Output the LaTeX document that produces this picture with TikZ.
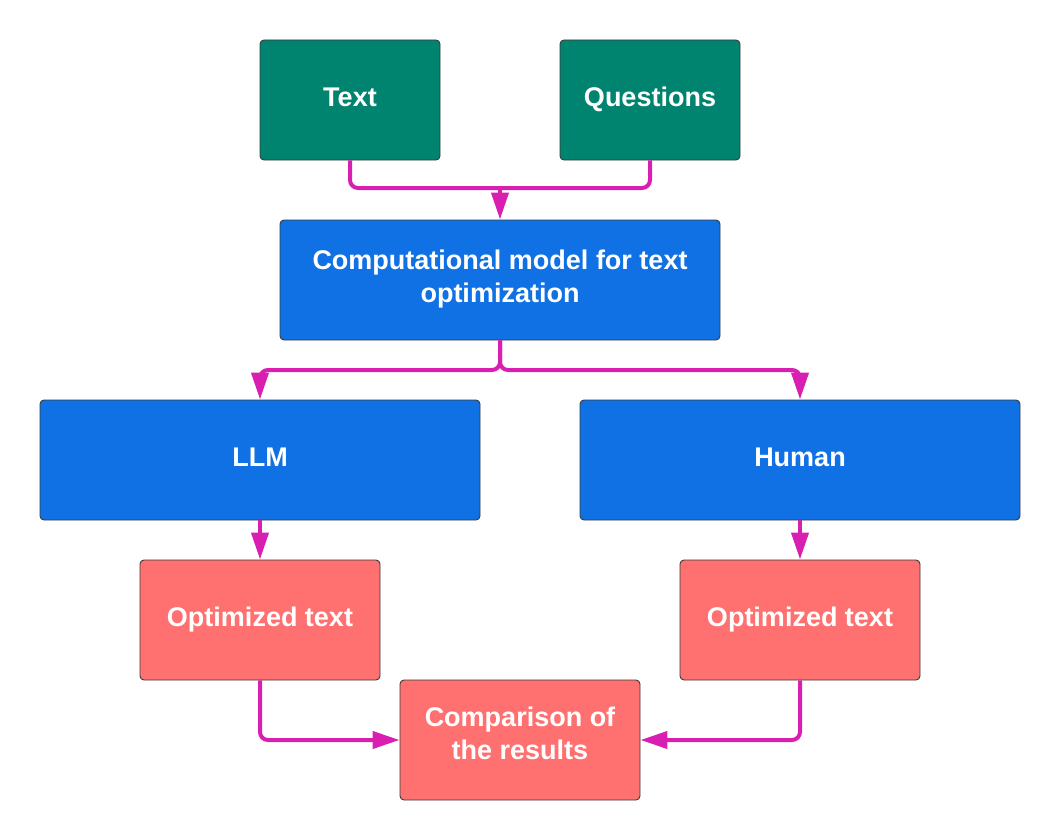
\documentclass[tikz,border=0pt]{standalone}
\usepackage{fontspec}
\setmainfont{Liberation Sans}
\usetikzlibrary{arrows.meta}
\definecolor{teal1}{HTML}{00846F}
\definecolor{blue1}{HTML}{1071E5}
\definecolor{salmon1}{HTML}{FF7070}
\definecolor{mag1}{HTML}{D91FB1}
\definecolor{edge1}{HTML}{3A3A3A}
\tikzset{
  box/.style={draw=edge1, line width=0.9pt, rounded corners=4pt, text=white,
    font=\fontsize{27}{33}\selectfont\bfseries, align=center, inner sep=0pt},
  oneline/.style={text height=20pt, text depth=7pt},
  greenbox/.style={box, fill=teal1, minimum width=180pt, minimum height=120pt},
  bluebox/.style={box, fill=blue1, minimum width=440pt, minimum height=120pt},
  redbox/.style={box, fill=salmon1, minimum width=240pt, minimum height=120pt},
  line1/.style={draw=mag1, line width=4pt, rounded corners=8pt},
  conn/.style={line1, -{Triangle[length=27pt,width=17pt]}}
}
\begin{document}
\begin{tikzpicture}[x=1pt,y=-1pt]
\useasboundingbox (0,0) rectangle (1060,840);
\node[greenbox, oneline] (text) at (350,100) {Text};
\node[greenbox, oneline] (quest) at (650,100) {Questions};
\node[bluebox, text depth=7.5pt] (comp) at (500,280) {Computational model for text\\optimization};
\node[bluebox, oneline] (llm) at (260,460) {LLM};
\node[bluebox, oneline] (human) at (800,460) {Human};
\node[redbox, oneline] (opt1) at (260,620) {Optimized text};
\node[redbox, oneline] (opt2) at (800,620) {Optimized text};
\node[redbox, text depth=14pt] (cmp) at (520,740) {Comparison of\\the results};
\coordinate (j1) at (500,188);
\draw[line1] (text.south) |- (j1) -| (quest.south);
\draw[conn] (j1) -- (comp.north);
\draw[conn] (comp.south) |- (260,370) -- (llm.north);
\draw[conn] (comp.south) |- (800,370) -- (human.north);
\draw[conn] (llm.south) -- (opt1.north);
\draw[conn] (human.south) -- (opt2.north);
\draw[conn] (opt1.south) |- (cmp.west);
\draw[conn] (opt2.south) |- (cmp.east);
\end{tikzpicture}
\end{document}
